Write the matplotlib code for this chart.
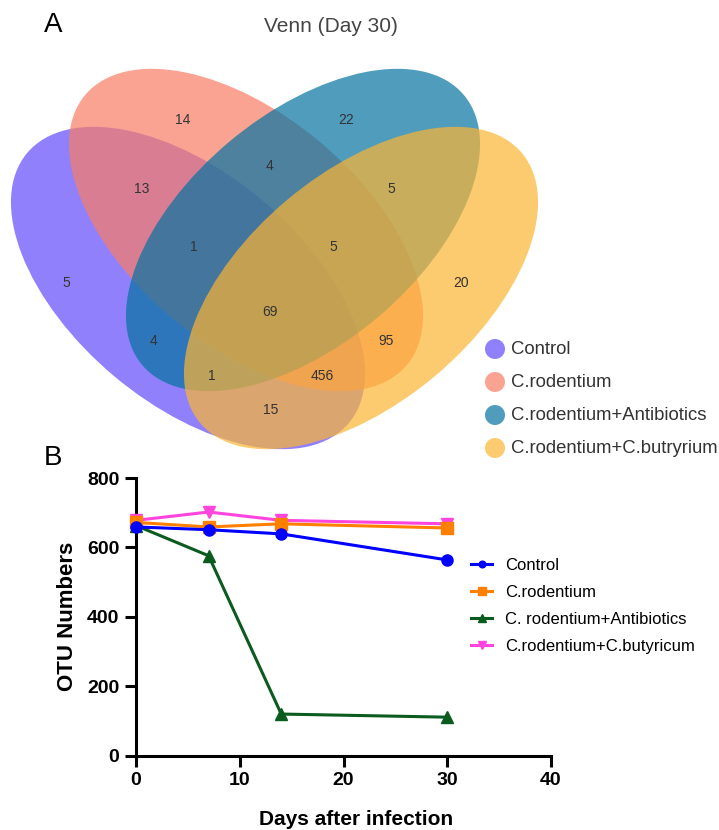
import matplotlib
matplotlib.use('Agg')
import matplotlib.pyplot as plt
from matplotlib.patches import Ellipse, Circle

plt.rcParams['font.family'] = ['Liberation Sans', 'DejaVu Sans']

# ---- A: Venn (Day 30) ----
venn_sets = ['Control', 'C.rodentium', 'C.rodentium+Antibiotics', 'C.rodentium+C.butryrium']
venn_colors = ['#624AFB', '#F97D66', '#0573A2', '#FCB533']
venn_counts = [14, 22, 13, 4, 5, 1, 5, 5, 20, 69, 4, 95, 1, 456, 15]

# ---- B: OTU numbers ----
days = [0, 7, 14, 30]
groups = ['Control', 'C.rodentium', 'C. rodentium+Antibiotics', 'C.rodentium+C.butyricum']
otu_control = [659, 651, 639, 564]
otu_crod = [672, 659, 668, 656]
otu_abx = [663, 576, 120, 111]
otu_cbut = [678, 702, 678, 668]

# layout (pixel coords of the 719x830 canvas)
ell_xy = [(188, 288), (246, 230), (303, 230), (361, 288)]
ell_ang = [40, 40, -40, -40]
count_xy = [(183, 120), (346, 120), (142, 189), (270, 166), (391, 189),
            (194, 247), (333, 247), (66, 283), (461, 283), (270, 312),
            (153, 341), (386, 341), (212, 376), (322, 376), (271, 410)]
leg_y = [349, 382, 415, 448]

fig = plt.figure(figsize=(7.19, 8.30), dpi=100)
va = fig.add_axes([0, 0, 1, 1])
va.set_xlim(0, 719)
va.set_ylim(830, 0)
va.axis('off')

for (x, y), ang, c in zip(ell_xy, ell_ang, venn_colors):
    va.add_patch(Ellipse((x, y), 420, 230, angle=ang, facecolor=c, alpha=0.7, lw=0))

for n, (x, y) in zip(venn_counts, count_xy):
    va.text(x, y, str(n), ha='center', va='center', fontsize=10, color='#333333')

for name, c, y in zip(venn_sets, venn_colors, leg_y):
    va.add_patch(Circle((495, y), 10, facecolor=c, alpha=0.7, lw=0))
    va.text(511, y, name, ha='left', va='center', fontsize=13.3, color='#333333')

va.text(331, 26, 'Venn (Day 30)', ha='center', va='center', fontsize=15, color='#444444')
va.text(53, 25, 'A', ha='center', va='center', fontsize=20)
va.text(53, 458, 'B', ha='center', va='center', fontsize=20)

# line chart
ax = fig.add_axes([136 / 719, 1 - 755.7 / 830, 415 / 719, 277.7 / 830])
ax.set_facecolor('none')
series = [otu_control, otu_crod, otu_abx, otu_cbut]
colors = ['#0000FF', '#FF7F00', '#0B5A1E', '#FF45DD']
markers = ['o', 's', '^', 'v']
msizes = [8, 8.5, 8.5, 8.5]
zords = [6, 5, 4, 3]
for vals, lab, c, m, ms, z in zip(series, groups, colors, markers, msizes, zords):
    ax.plot(days, vals, color=c, marker=m, markersize=ms, lw=2.2, label=lab,
            zorder=z, clip_on=False)

ax.set_xlim(0, 40)
ax.set_ylim(0, 800)
ax.set_xticks([0, 10, 20, 30, 40])
ax.set_yticks([0, 200, 400, 600, 800])
for s in ['top', 'right']:
    ax.spines[s].set_visible(False)
for s in ['left', 'bottom']:
    ax.spines[s].set_linewidth(2.2)
ax.tick_params(width=2.2, length=8, labelsize=14, pad=4)
for t in ax.get_xticklabels() + ax.get_yticklabels():
    t.set_fontweight('bold')

ax.set_ylabel('OTU Numbers', fontsize=16, fontweight='bold')
ax.yaxis.set_label_coords(-0.14, 0.5)
ax.set_xlabel('Days after infection', fontsize=15, fontweight='bold')
ax.xaxis.set_label_coords(0.53, -0.195)

ax.legend(loc='upper left', bbox_to_anchor=(471 / 719, 1 - 557.5 / 830),
          bbox_transform=fig.transFigure, frameon=False, fontsize=12,
          handlelength=1.26, handletextpad=0.78, labelspacing=0.73,
          borderpad=0, borderaxespad=0, markerscale=0.6)

fig.savefig('out.png', dpi=100)
